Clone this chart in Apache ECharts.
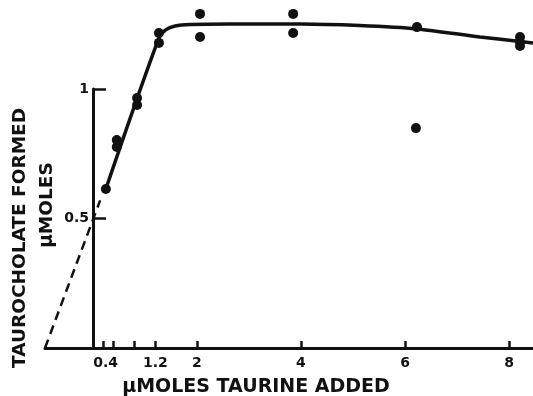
<!DOCTYPE html>
<html>
<head>
<meta charset="utf-8">
<script src="https://cdn.jsdelivr.net/npm/echarts@6/dist/echarts.min.js"></script>
<style>html,body{margin:0;padding:0;background:#fff}#c{width:533px;height:396px}</style>
</head>
<body>
<div id="c"></div>
<script>
// measured points (µmoles taurine added, taurocholate formed µmoles)
const pointX = [0.25, 0.46, 0.46, 0.85, 0.85, 1.27, 1.27, 2.06, 2.06, 3.85, 3.85, 6.23, 6.21, 8.21, 8.21, 8.21];
const pointY = [0.614, 0.803, 0.776, 0.965, 0.938, 1.216, 1.178, 1.290, 1.201, 1.290, 1.216, 1.239, 0.849, 1.201, 1.181, 1.166];
// fitted curve drawn through the data
const curveX = [0.25, 1.27, 1.40, 1.58, 1.87, 2.63, 3.98, 5.13, 6.23, 7.44, 8.46];
const curveY = [0.614, 1.197, 1.228, 1.243, 1.249, 1.251, 1.251, 1.245, 1.232, 1.201, 1.178];
// dashed extrapolation
const dashX = [-0.92, 0.14];
const dashY = [0, 0.57];
// axis ticks and labels
const xTickValues = [0.2, 0.4, 0.8, 1.2, 2, 4, 6, 8];
const xLabelValues = [0.4, 1.2, 2, 4, 6, 8];
const xLabelText = ['0.4', '1.2', '2', '4', '6', '8'];
const yTickValues = [0.5, 1];
const yLabelText = ['0.5', '1'];
const xTitle = 'μMOLES TAURINE ADDED';
const yTitle1 = 'TAUROCHOLATE FORMED';
const yTitle2 = 'μMOLES';

const zip = (a, b) => a.map((v, i) => [v, b[i]]);
const INK = '#111';
const FONT = 'DejaVu Sans';

const chart = echarts.init(document.getElementById('c'), null, {renderer: 'canvas'});
chart.setOption({
  animation: false,
  backgroundColor: '#fff',
  grid: [
    {left: 45, right: 0, top: 0, bottom: 48},
    {left: 93, top: 89, height: 259, width: 20}
  ],
  xAxis: [
    {
      gridIndex: 0, type: 'value', min: -0.92, max: 8.46,
      splitLine: {show: false},
      axisLine: {onZero: false, lineStyle: {color: INK, width: 3}},
      axisTick: {inside: true, length: 7, customValues: xTickValues, lineStyle: {color: INK, width: 2.5}},
      axisLabel: {
        customValues: xLabelValues, margin: 8, color: INK,
        fontFamily: FONT, fontWeight: 'bold', fontSize: 14,
        formatter: v => {
          const i = xLabelValues.findIndex(x => Math.abs(x - v) < 1e-6);
          const t = i >= 0 ? xLabelText[i] : '';
          return v === 0.4 ? '{s|' + t + '}' : t;
        },
        rich: {s: {padding: [0, 16, 0, 0], fontFamily: FONT, fontWeight: 'bold', fontSize: 14, color: INK}}
      }
    },
    {gridIndex: 1, type: 'value', show: false, min: 0, max: 1}
  ],
  yAxis: [
    {gridIndex: 0, type: 'value', min: 0, max: 348 / 259, show: false},
    {
      gridIndex: 1, type: 'value', min: 0, max: 1,
      splitLine: {show: false},
      axisLine: {show: true, lineStyle: {color: INK, width: 3}},
      axisTick: {inside: true, length: 13, customValues: yTickValues, lineStyle: {color: INK, width: 2.5}},
      axisLabel: {
        customValues: yTickValues, margin: 4, color: INK,
        fontFamily: FONT, fontWeight: 'bold', fontSize: 14,
        formatter: v => yLabelText[yTickValues.indexOf(v)] || ''
      }
    }
  ],
  series: [
    {
      type: 'line', xAxisIndex: 0, yAxisIndex: 0, data: zip(dashX, dashY),
      showSymbol: false, lineStyle: {color: INK, width: 2.5, type: [9, 6]}, silent: true
    },
    {
      type: 'line', xAxisIndex: 0, yAxisIndex: 0, data: zip(curveX, curveY),
      showSymbol: false, smooth: 0.3, lineStyle: {color: INK, width: 3.5}, silent: true
    },
    {
      type: 'scatter', xAxisIndex: 0, yAxisIndex: 0, data: zip(pointX, pointY),
      symbol: 'circle', symbolSize: 10, itemStyle: {color: INK, opacity: 1}, silent: true
    }
  ],
  graphic: [
    {type: 'text', x: 256, y: 387, style: {text: xTitle, fill: INK, font: 'bold 19px "' + FONT + '"', textAlign: 'center', textVerticalAlign: 'middle'}},
    {type: 'text', x: 20, y: 238, rotation: Math.PI / 2, style: {text: yTitle1, fill: INK, font: 'bold 18.5px "' + FONT + '"', textAlign: 'center', textVerticalAlign: 'middle'}},
    {type: 'text', x: 47, y: 205, rotation: Math.PI / 2, style: {text: yTitle2, fill: INK, font: 'bold 18.5px "' + FONT + '"', textAlign: 'center', textVerticalAlign: 'middle'}}
  ]
});
</script>
</body>
</html>
